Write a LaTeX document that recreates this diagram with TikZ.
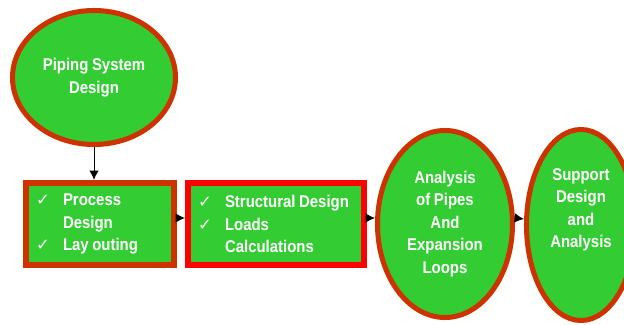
\documentclass[tikz,border=0pt]{standalone}
\usepackage{fontspec}
\setmainfont{Liberation Sans}
\newfontfamily\narrowfont[FakeStretch=0.88,WordSpace=0.85]{Liberation Sans}
\newfontfamily\tickfont{DejaVu Sans}
\usetikzlibrary{shapes.geometric,arrows.meta}

\definecolor{leafgreen}{RGB}{51,204,51}
\definecolor{rust}{RGB}{204,51,0}

% check mark and empty slot for the list lines
\newcommand{\tick}{\makebox[0.81cm][l]{\tickfont\fontsize{14}{19.2}\selectfont ✓}}
\newcommand{\notick}{\makebox[0.81cm]{}}

\tikzset{
  bigtext/.style={text=white, font=\narrowfont\bfseries\fontsize{14.5}{19.2}\selectfont},
  oval/.style={ellipse, fill=leafgreen, draw=rust, line width=4.3pt, inner sep=0pt, bigtext, align=center},
  listbox/.style={rectangle, fill=leafgreen, line width=5.2pt, bigtext, align=flush left,
    inner xsep=0.3cm, inner ysep=0pt, minimum height=2.46cm},
  flow/.style={-{Latex[length=8pt,width=8pt]}, line width=0.8pt}
}

\begin{document}
\begin{tikzpicture}
 \useasboundingbox (0,0) rectangle (18.72,9.72);

 % start
 \node[oval, minimum width=4.89cm, minimum height=4.02cm] (piping) at (2.82,7.395) {Piping System\\Design};

 % the two list boxes
 \node[listbox, draw=rust, text width=3.84cm] (process) at (3.0,3.0)
   {\tick Process\\\notick Design\\\tick Lay outing};
 \node[listbox, draw=red, text width=4.68cm] (struct) at (8.28,3.0)
   {\tick Structural Design\\\tick Loads\\\notick Calculations};

 % analysis and supports
 \node[oval, minimum width=4.05cm, minimum height=5.61cm] (pipes) at (13.35,3.0)
   {Analysis\\of Pipes\\And\\Expansion\\Loops};
 \node[oval, minimum width=3.27cm, minimum height=5.73cm] (support) at (17.43,2.97) {};
 \node[bigtext, align=center] (supporttext) at (17.43,3.42) {Support\\Design\\and\\Analysis};

 \draw[flow] (piping.south) -- (piping.south |- process.north);
 \draw[flow] ([yshift=0.18cm]process.east) -- ([yshift=0.18cm]struct.west);
 \draw[flow] ([yshift=0.18cm]struct.east) -- ([yshift=0.18cm]pipes.west);
 \draw[flow] ([yshift=0.18cm]pipes.east) -- ([yshift=0.18cm]support.west);

\end{tikzpicture}
\end{document}
